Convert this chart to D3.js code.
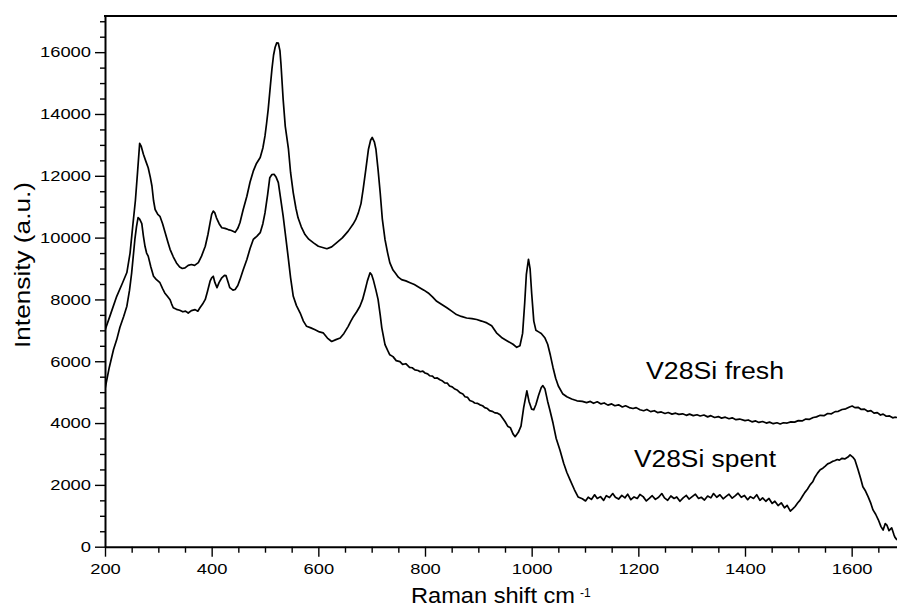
<!DOCTYPE html>
<html>
<head>
<meta charset="utf-8">
<script src="https://cdn.jsdelivr.net/npm/d3@7/dist/d3.min.js"></script>
<style>
  html, body { margin: 0; padding: 0; background: #fff; }
  svg { display: block; }
  text { font-family: "Liberation Sans", Arial, Helvetica, sans-serif; fill: #000; }
</style>
</head>
<body>
<svg id="chart" width="897" height="610"></svg>
<script>
// ---- data (Raman shift cm-1, intensity a.u.) ----
const freshData = [
  [200,7000],[210,7500],[222,8100],[232,8500],[241,8870],[247,9500],[252,10370],[257,11200],[261,12110],[265,13050],
  [268,12950],[272,12700],[277,12450],[281,12260],[285,11950],[288,11670],[291,11200],[294,10910],[299,10750],[303,10690],
  [308,10450],[313,10150],[318,9850],[322,9620],[328,9380],[334,9180],[340,9050],[345,9000],[350,9020],[356,9100],
  [362,9130],[368,9100],[375,9190],[381,9400],[388,9720],[393,10100],[397,10480],[400,10750],[403,10860],[406,10800],
  [409,10640],[414,10450],[419,10320],[425,10300],[431,10260],[437,10230],[444,10170],[449,10300],[453,10480],[459,10900],
  [466,11340],[472,11800],[478,12150],[484,12400],[491,12590],[496,12900],[500,13290],[503,13700],[506,14150],[510,14900],
  [513,15450],[516,15900],[519,16160],[522,16300],[525,16290],[528,16050],[530,15600],[534,14480],[538,13600],[544,12860],
  [548,12100],[553,11450],[558,10950],[562,10640],[568,10350],[575,10100],[582,9950],[591,9830],[600,9720],[608,9680],
  [616,9640],[625,9700],[634,9830],[645,9990],[656,10210],[665,10430],[670,10580],[675,10800],[680,11100],[684,11560],
  [689,12200],[694,12860],[698,13150],[701,13240],[705,13100],[708,12860],[712,12200],[716,11450],[720,10600],[725,9940],
  [730,9500],[734,9190],[740,8950],[744,8860],[750,8720],[756,8640],[764,8600],[772,8540],[780,8480],[790,8380],
  [798,8300],[806,8210],[814,8080],[822,7940],[830,7850],[841,7730],[850,7620],[859,7510],[868,7450],[878,7400],
  [888,7380],[897,7350],[906,7300],[916,7240],[925,7150],[934,6920],[945,6750],[955,6650],[965,6550],[972,6450],
  [978,6500],[983,6900],[987,7900],[990,8800],[994,9300],[997,9000],[1000,8200],[1004,7300],[1008,7000],[1013,6950],
  [1018,6900],[1025,6750],[1030,6550],[1035,6200],[1040,5800],[1045,5450],[1050,5200],[1058,4950],[1066,4850],[1075,4780],
  [1085,4720],[1095,4700],[1103,4660],[1110,4700],[1116,4640],[1123,4690],[1130,4620],[1136,4650],[1143,4580],[1150,4620],
  [1156,4560],[1163,4590],[1170,4520],[1176,4560],[1183,4500],[1190,4470],[1196,4500],[1203,4430],[1210,4400],[1216,4440],
  [1223,4370],[1230,4400],[1236,4340],[1243,4360],[1250,4310],[1256,4340],[1263,4290],[1270,4320],[1276,4280],[1283,4300],
  [1290,4250],[1296,4290],[1303,4240],[1310,4270],[1316,4230],[1323,4260],[1330,4200],[1336,4240],[1343,4180],[1350,4210],
  [1356,4160],[1363,4190],[1370,4140],[1376,4170],[1383,4110],[1390,4130],[1400,4080],[1406,4100],[1413,4040],[1420,4070],
  [1426,4020],[1433,4050],[1440,4000],[1446,4030],[1453,3980],[1460,4010],[1466,3970],[1472,4010],[1479,4000],[1486,4040],
  [1493,4030],[1500,4080],[1507,4070],[1514,4130],[1521,4120],[1528,4180],[1534,4200],[1541,4250],[1548,4240],[1555,4310],
  [1562,4300],[1569,4370],[1575,4380],[1582,4440],[1589,4460],[1596,4520],[1601,4550],[1606,4500],[1612,4510],[1618,4440],
  [1624,4450],[1630,4380],[1636,4400],[1642,4320],[1648,4340],[1654,4260],[1659,4290],[1665,4220],[1671,4230],[1677,4170],
  [1681,4190],[1685,4180]
];
const spentData = [
  [200,5100],[208,5800],[216,6380],[222,6700],[228,7100],[235,7450],[241,7780],[246,8300],[250,8860],[253,9400],
  [256,9940],[259,10350],[262,10650],[265,10600],[269,10450],[272,10050],[275,9720],[278,9500],[281,9400],[286,9050],
  [291,8750],[296,8650],[303,8540],[308,8350],[312,8210],[317,8100],[322,7990],[325,7850],[328,7730],[334,7680],
  [340,7650],[346,7600],[351,7620],[356,7560],[362,7640],[369,7670],[374,7620],[378,7730],[383,7850],[388,8000],
  [392,8250],[397,8590],[400,8700],[403,8750],[406,8550],[410,8380],[414,8550],[419,8700],[424,8780],[427,8770],
  [431,8550],[434,8380],[440,8300],[444,8320],[449,8450],[453,8640],[459,8950],[466,9290],[472,9650],[478,9940],
  [485,10050],[491,10160],[496,10450],[500,10800],[505,11400],[509,11940],[513,12040],[517,12050],[521,11950],[525,11780],
  [529,11300],[534,10700],[539,10000],[544,9290],[548,8700],[553,8100],[559,7800],[566,7560],[572,7300],[578,7130],
  [586,7080],[594,7020],[602,6950],[609,6920],[617,6750],[625,6640],[633,6700],[641,6750],[648,6900],[656,7130],
  [661,7300],[666,7450],[672,7600],[678,7780],[683,8000],[688,8320],[692,8600],[697,8860],[700,8800],[703,8640],
  [708,8300],[712,8000],[716,7500],[719,7080],[725,6540],[730,6350],[734,6210],[740,6150],[746,6020],[753,5990],
  [758,5900],[764,5920],[771,5800],[776,5790],[781,5720],[787,5700],[791,5660],[796,5680],[800,5620],[805,5590],
  [809,5530],[814,5520],[818,5450],[823,5460],[828,5400],[833,5360],[837,5300],[842,5290],[846,5200],[851,5170],
  [856,5100],[861,5060],[866,4980],[871,4940],[875,4850],[880,4830],[884,4730],[889,4700],[893,4650],[898,4640],
  [903,4590],[908,4560],[912,4500],[917,4470],[921,4400],[926,4380],[931,4330],[936,4320],[941,4270],[946,4150],
  [950,4050],[955,3900],[960,3850],[965,3650],[969,3560],[975,3700],[980,3900],[985,4500],[991,5040],[995,4700],
  [1000,4450],[1004,4430],[1008,4600],[1013,4900],[1018,5150],[1021,5210],[1025,5100],[1030,4700],[1034,4430],[1040,4000],
  [1046,3500],[1053,3130],[1060,2700],[1066,2400],[1072,2160],[1080,1850],[1087,1610],[1095,1550],[1101,1480],[1106,1600],
  [1112,1530],[1118,1680],[1123,1560],[1129,1620],[1135,1500],[1140,1650],[1146,1590],[1152,1720],[1157,1600],[1163,1540],
  [1169,1660],[1175,1580],[1180,1700],[1186,1520],[1192,1610],[1198,1560],[1203,1690],[1209,1620],[1215,1480],[1221,1570],
  [1226,1650],[1232,1530],[1238,1600],[1244,1720],[1249,1580],[1255,1500],[1261,1640],[1267,1560],[1272,1610],[1278,1470],
  [1284,1580],[1290,1660],[1295,1540],[1301,1620],[1307,1700],[1313,1560],[1318,1600],[1324,1510],[1330,1640],[1336,1580],
  [1341,1720],[1347,1600],[1353,1680],[1359,1550],[1364,1620],[1370,1700],[1376,1570],[1382,1650],[1387,1730],[1393,1600],
  [1399,1660],[1405,1520],[1410,1620],[1416,1560],[1422,1680],[1428,1500],[1433,1580],[1439,1470],[1445,1560],[1451,1400],
  [1456,1470],[1462,1330],[1468,1420],[1474,1260],[1479,1340],[1485,1150],[1490,1230],[1494,1300],[1499,1420],[1503,1500],
  [1508,1640],[1512,1750],[1517,1860],[1522,2000],[1527,2100],[1531,2250],[1536,2380],[1541,2490],[1546,2540],[1550,2600],
  [1555,2680],[1559,2710],[1564,2760],[1568,2780],[1573,2820],[1577,2800],[1582,2860],[1587,2840],[1593,2900],[1597,2970],
  [1602,2900],[1606,2810],[1612,2490],[1617,2200],[1621,1940],[1626,1800],[1631,1610],[1636,1400],[1640,1190],[1645,1050],
  [1650,870],[1655,650],[1659,540],[1663,750],[1666,700],[1670,520],[1675,610],[1679,400],[1681,310],[1685,220]
];
const xMajorTicks = [200, 400, 600, 800, 1000, 1200, 1400, 1600];
const yMajorTicks = [0, 2000, 4000, 6000, 8000, 10000, 12000, 14000, 16000];
const seriesLabels = ["V28Si fresh", "V28Si spent"];
const xTitle = "Raman shift cm";
const xTitleSup = "-1";
const yTitle = "Intensity (a.u.)";

// ---- layout ----
const svg = d3.select("#chart");
const x = d3.scaleLinear().domain([200, 1700]).range([105, 905]);
const y = d3.scaleLinear().domain([0, 17170]).range([546.7, 16]);
const xMinor = d3.range(250, 1700, 50).filter(v => v % 200 !== 0);
const yMinor = d3.range(500, 17001, 500).filter(v => v % 2000 !== 0);
const fmt = d3.format("d");

svg.append("defs").append("clipPath").attr("id", "plotclip")
  .append("rect").attr("x", 105).attr("y", 16).attr("width", 792).attr("height", 531);

// curves
const line = d3.line().x(d => x(d[0])).y(d => y(d[1]));
const g = svg.append("g").attr("clip-path", "url(#plotclip)");
[freshData, spentData].forEach(data => {
  g.append("path").datum(data).attr("d", line)
    .attr("fill", "none").attr("stroke", "#000").attr("stroke-width", 1.7)
    .attr("stroke-linejoin", "round");
});

// y axis
const yAxisG = svg.append("g").attr("transform", "translate(105,0)");
yAxisG.append("g").call(d3.axisLeft(y).tickValues(yMinor).tickSize(5).tickFormat("").tickSizeOuter(0))
  .call(s => s.select(".domain").remove());
const yMaj = yAxisG.append("g").call(d3.axisLeft(y).tickValues(yMajorTicks).tickFormat(fmt).tickSize(10).tickSizeOuter(0).tickPadding(4));
yMaj.select(".domain").attr("stroke-width", 2);
yAxisG.selectAll("line").attr("stroke-width", 1.4);
yMaj.selectAll("text")
  .style("font-size", "15px")
  .attr("textLength", d => fmt(d).length * 10.2)
  .attr("lengthAdjust", "spacingAndGlyphs");

// x axis
const xAxisG = svg.append("g").attr("transform", `translate(0,${y(0)})`);
xAxisG.append("g").call(d3.axisBottom(x).tickValues(xMinor).tickSize(6).tickFormat("").tickSizeOuter(0))
  .call(s => s.select(".domain").remove());
const xMaj = xAxisG.append("g").call(d3.axisBottom(x).tickValues(xMajorTicks).tickFormat(fmt).tickSize(10).tickSizeOuter(0));
xMaj.select(".domain").attr("stroke-width", 2);
xAxisG.selectAll("line").attr("stroke-width", 1.4);
xMaj.selectAll("text")
  .style("font-size", "15px")
  .attr("y", 27).attr("dy", 0)
  .attr("textLength", d => fmt(d).length * 10.2)
  .attr("lengthAdjust", "spacingAndGlyphs");

// top frame line
svg.append("line").attr("x1", 104).attr("x2", 897).attr("y1", 16).attr("y2", 16)
  .attr("stroke", "#000").attr("stroke-width", 2);

// axis titles
const xt = svg.append("text").attr("x", 411).attr("y", 602.5).style("font-size", "22px");
xt.append("tspan").text(xTitle).attr("textLength", 164).attr("lengthAdjust", "spacingAndGlyphs");
svg.append("text").attr("x", 580).attr("y", 597).style("font-size", "12px").text(xTitleSup);

svg.append("text")
  .attr("transform", "translate(30,265) rotate(-90)")
  .attr("text-anchor", "middle")
  .style("font-size", "22px")
  .attr("textLength", 166).attr("lengthAdjust", "spacingAndGlyphs")
  .text(yTitle);

// series labels
svg.append("text").attr("x", 646).attr("y", 379).style("font-size", "23px")
  .attr("textLength", 138).attr("lengthAdjust", "spacingAndGlyphs").text(seriesLabels[0]);
svg.append("text").attr("x", 634).attr("y", 467).style("font-size", "23px")
  .attr("textLength", 142).attr("lengthAdjust", "spacingAndGlyphs").text(seriesLabels[1]);
</script>
</body>
</html>
